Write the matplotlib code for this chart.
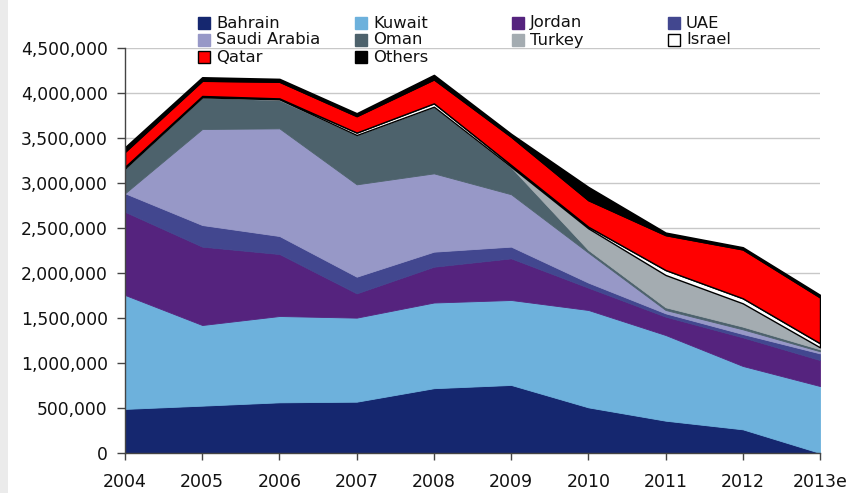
import matplotlib
matplotlib.use("Agg")
import matplotlib.pyplot as plt
from matplotlib.patches import Rectangle
from matplotlib.ticker import FuncFormatter, MultipleLocator

years = ["2004", "2005", "2006", "2007", "2008", "2009", "2010", "2011", "2012", "2013e"]

bahrain = [490000, 526000, 563000, 570000, 720000, 756000, 507000, 359000, 263000, 0]
kuwait = [1266000, 896000, 959000, 934000, 952000, 944000, 1082000, 952000, 704000, 744000]
jordan = [924000, 871000, 689000, 270000, 398000, 463000, 248000, 204000, 318000, 289000]
uae = [206000, 240000, 200000, 185000, 167000, 130000, 56000, 37000, 37000, 74000]
saudi = [0, 1067000, 1196000, 1026000, 870000, 582000, 333000, 37000, 52000, 23000]
oman = [277000, 352000, 315000, 548000, 741000, 300000, 30000, 30000, 30000, 22000]
turkey = [0, 0, 8000, 0, 0, 5000, 240000, 359000, 259000, 22000]
israel = [17000, 15000, 10000, 27000, 37000, 20000, 18000, 55000, 56000, 45000]
qatar = [168000, 170000, 186000, 184000, 267000, 315000, 296000, 389000, 544000, 511000]
others = [48000, 37000, 30000, 30000, 48000, 30000, 145000, 26000, 22000, 26000]

names = ["Bahrain", "Kuwait", "Jordan", "UAE", "Saudi Arabia", "Oman", "Turkey", "Israel", "Qatar", "Others"]
series = [bahrain, kuwait, jordan, uae, saudi, oman, turkey, israel, qatar, others]
colors = ["#15276f", "#6db1dc", "#55237e", "#42478f", "#9798c7", "#4d626c", "#a4acb1", "#ffffff", "#ff0000", "#000000"]

W, H = 852, 493
fig = plt.figure(figsize=(W / 100, H / 100), dpi=100)
fig.patch.set_facecolor("white")
# light gray strip on the left edge
fig.patches.append(Rectangle((0, 0), 8 / W, 1, transform=fig.transFigure,
                             facecolor="#ebebeb", edgecolor="none", zorder=0))

ax = fig.add_axes([125 / W, (H - 453) / H, 695 / W, 405 / H])
x = list(range(len(years)))
polys = ax.stackplot(x, *series, colors=colors, linewidth=0.6)
for p, c in zip(polys, colors):
    p.set_edgecolor(c)
polys[7].set_edgecolor("black")
polys[7].set_linewidth(1.0)
polys[8].set_edgecolor("black")
polys[8].set_linewidth(1.0)
polys[9].set_edgecolor("black")
polys[9].set_linewidth(1.2)
for p in polys:
    p.set_zorder(3)

ax.set_xlim(0, len(years) - 1)
ax.set_ylim(0, 4500000)
ax.yaxis.set_major_locator(MultipleLocator(500000))
ax.yaxis.set_major_formatter(FuncFormatter(lambda v, pos: f"{int(v):,}"))
ax.set_xticks(x)
ax.set_xticklabels(years)
ax.grid(axis="y", color="#c8c8c8", linewidth=1.0, zorder=0)
ax.set_axisbelow(True)
for s in ["top", "right"]:
    ax.spines[s].set_visible(False)
for s in ["left", "bottom"]:
    ax.spines[s].set_color("#444444")
    ax.spines[s].set_linewidth(1.0)
    ax.spines[s].set_zorder(5)
ax.tick_params(axis="y", direction="out", length=6, width=1, color="#444444",
               pad=6.5, labelsize=12.3, labelcolor="#111111")
ax.tick_params(axis="x", direction="out", length=5, width=1, color="#444444",
               pad=9.5, labelsize=12.5, labelcolor="#111111")

# legend drawn manually in four evenly spaced columns
order_rows = [["Bahrain", "Kuwait", "Jordan", "UAE"],
              ["Saudi Arabia", "Oman", "Turkey", "Israel"],
              ["Qatar", "Others"]]
col_x = [198, 355, 512, 668]
row_y = [23, 40, 57]
for r, row in enumerate(order_rows):
    for c, nm in enumerate(row):
        i = names.index(nm)
        bx, by = col_x[c], row_y[r]
        edge = "black" if nm in ("Israel", "Qatar") else colors[i]
        fig.patches.append(Rectangle((bx / W, (H - by - 6) / H), 12 / W, 12 / H,
                                     transform=fig.transFigure, facecolor=colors[i],
                                     edgecolor=edge, linewidth=1.0, zorder=6))
        fig.text((bx + 18) / W, (H - by) / H, nm, fontsize=11.8, color="#111111",
                 va="center", ha="left", zorder=6)

fig.savefig("out.png", dpi=100)
